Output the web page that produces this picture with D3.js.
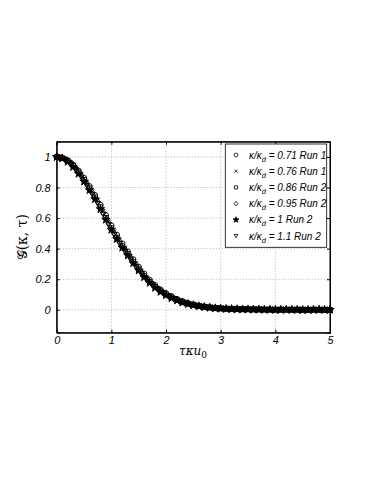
<!DOCTYPE html>
<html>
<head>
<meta charset="utf-8">
<script src="https://cdn.jsdelivr.net/npm/d3@7"></script>
<style>
  body { margin: 0; background: #fff; }
  .tick text { font-family: "Liberation Sans", Arial, sans-serif; font-style: italic; font-size: 11px; fill: #000; }
  .grid line { stroke: #b0b0b0; stroke-dasharray: 1,2; }
</style>
</head>
<body>
<div id="chart"></div>
<script>
// sampling positions (tau*kappa*u0), two interleaved grids
const tauA = [0,0.1,0.2,0.3,0.4,0.5,0.6,0.7,0.8,0.9,1.0,1.1,1.2,1.3,1.4,1.5,1.6,1.7,1.8,1.9,2.0,2.1,2.2,2.3,2.4,2.5,2.6,2.7,2.8,2.9,3.0,3.1,3.2,3.3,3.4,3.5,3.6,3.7,3.8,3.9,4.0,4.1,4.2,4.3,4.4,4.5,4.6,4.7,4.8,4.9,5.0];
const tauB = [0.05,0.15,0.25,0.35,0.45,0.55,0.65,0.75,0.85,0.95,1.05,1.15,1.25,1.35,1.45,1.55,1.65,1.75,1.85,1.95,2.05,2.15,2.25,2.35,2.45,2.55,2.65,2.75,2.85,2.95,3.05,3.15,3.25,3.35,3.45,3.55,3.65,3.75,3.85,3.95,4.05,4.15,4.25,4.35,4.45,4.55,4.65,4.75,4.85,4.95];

const run071 = [1.000,0.995,0.978,0.950,0.910,0.862,0.808,0.750,0.686,0.618,0.552,0.490,0.433,0.381,0.330,0.281,0.236,0.196,0.161,0.132,0.108,0.088,0.070,0.056,0.044,0.035,0.027,0.021,0.016,0.012,0.010,0.008,0.006,0.005,0.004,0.004,0.003,0.003,0.002,0.002,0.001,0.001,0.001,0.000,0.001,0.000,0.000,0.001,0.000,0.000,0.000];
const run076 = [0.998,0.987,0.964,0.928,0.883,0.831,0.774,0.715,0.646,0.577,0.512,0.452,0.398,0.347,0.296,0.249,0.206,0.170,0.140,0.114,0.093,0.074,0.059,0.046,0.037,0.029,0.023,0.018,0.014,0.011,0.009,0.007,0.005,0.004,0.004,0.003,0.002,0.002,0.001,0.001,0.001,0.000,0.001,0.000,0.000,0.001,0.000,0.000,0.000,0.001];
const run086 = [1.000,0.993,0.974,0.943,0.901,0.851,0.796,0.737,0.672,0.602,0.535,0.473,0.417,0.366,0.315,0.266,0.221,0.183,0.150,0.123,0.100,0.081,0.064,0.051,0.040,0.032,0.025,0.019,0.015,0.011,0.009,0.007,0.006,0.005,0.004,0.003,0.003,0.002,0.002,0.001,0.001,0.001,0.000,0.001,0.000,0.000,0.000,0.001,0.000,0.000,0.000];
const run095 = [0.998,0.985,0.960,0.923,0.877,0.824,0.767,0.707,0.637,0.568,0.503,0.444,0.391,0.340,0.290,0.243,0.201,0.166,0.136,0.111,0.090,0.072,0.057,0.045,0.036,0.028,0.022,0.017,0.013,0.010,0.008,0.006,0.005,0.004,0.004,0.003,0.002,0.002,0.001,0.001,0.000,0.001,0.000,0.000,0.001,0.000,0.000,0.000,0.001,0.000];
const run100 = [1.000,0.991,0.969,0.935,0.891,0.840,0.784,0.724,0.659,0.590,0.524,0.463,0.407,0.356,0.306,0.258,0.214,0.177,0.145,0.118,0.096,0.077,0.061,0.048,0.038,0.030,0.023,0.018,0.014,0.010,0.008,0.006,0.005,0.004,0.003,0.003,0.002,0.002,0.001,0.001,0.000,0.000,0.001,0.000,0.000,-0.001,0.000,0.000,0.001,0.000,0.000];
const run110 = [0.997,0.982,0.955,0.916,0.868,0.813,0.755,0.694,0.624,0.555,0.491,0.433,0.380,0.330,0.281,0.235,0.194,0.160,0.131,0.106,0.086,0.069,0.054,0.043,0.034,0.026,0.020,0.016,0.012,0.009,0.007,0.006,0.004,0.004,0.003,0.002,0.002,0.001,0.001,0.000,0.000,0.000,0.001,0.000,0.000,0.000,0.001,0.000,0.000,0.000];

const ratios = ['0.71', '0.76', '0.86', '0.95', '1', '1.1'];
const runs = ['Run 1', 'Run 1', 'Run 2', 'Run 2', 'Run 2', 'Run 2'];
const markers = ['circle', 'times', 'square', 'diamond', 'star', 'triangle'];
const xTicks = [0, 1, 2, 3, 4, 5];
const yTicks = [0, 0.2, 0.4, 0.6, 0.8, 1];

const series = [
  {x: tauA, y: run071}, {x: tauB, y: run076}, {x: tauA, y: run086},
  {x: tauB, y: run095}, {x: tauA, y: run100}, {x: tauB, y: run110}
];

const W = 374, H = 484;
const m = {left: 56.7, right: 330, top: 141.7, bottom: 332.7};

const svg = d3.select('#chart').append('svg')
    .attr('width', W).attr('height', H);

const x = d3.scaleLinear().domain([0, 5]).range([m.left, m.right]);
const y = d3.scaleLinear().domain([-0.15, 1.1]).range([m.bottom, m.top]);

// marker shapes, s = half size
function markerPath(type, s) {
  const p = d3.path();
  if (type === 'circle') {
    p.moveTo(s, 0); p.arc(0, 0, s, 0, 2 * Math.PI);
  } else if (type === 'times') {
    const t = s * 0.8;
    p.moveTo(-t, -t); p.lineTo(t, t); p.moveTo(-t, t); p.lineTo(t, -t);
  } else if (type === 'square') {
    p.rect(-s * 0.85, -s * 0.85, s * 1.7, s * 1.7);
  } else if (type === 'diamond') {
    p.moveTo(0, -s * 1.2); p.lineTo(s, 0); p.lineTo(0, s * 1.2); p.lineTo(-s, 0); p.closePath();
  } else if (type === 'triangle') {
    p.moveTo(-s, -s * 0.8); p.lineTo(s, -s * 0.8); p.lineTo(0, s); p.closePath();
  } else if (type === 'star') {
    return d3.symbol(d3.symbolStar, s * s * 3)();
  }
  return p.toString();
}

// grid
const grid = svg.append('g').attr('class', 'grid');
grid.selectAll('.gx').data(xTicks.slice(1, -1)).enter().append('line')
    .attr('x1', d => x(d)).attr('x2', d => x(d))
    .attr('y1', m.top).attr('y2', m.bottom);
grid.selectAll('.gy').data(yTicks).enter().append('line')
    .attr('x1', m.left).attr('x2', m.right)
    .attr('y1', d => y(d)).attr('y2', d => y(d));

// axes
svg.append('g').attr('id', 'x-axis')
    .attr('transform', 'translate(0,' + m.bottom + ')')
    .call(d3.axisBottom(x).tickValues(xTicks).tickSize(-3).tickPadding(4).tickFormat(d3.format('d')));
svg.append('g').attr('id', 'y-axis')
    .attr('transform', 'translate(' + m.left + ',0)')
    .call(d3.axisLeft(y).tickValues(yTicks).tickSize(-3).tickPadding(6).tickFormat(d => d));
svg.append('g').attr('transform', 'translate(0,' + m.top + ')')
    .call(d3.axisTop(x).tickValues(xTicks).tickSize(-3).tickFormat(''));
svg.append('g').attr('transform', 'translate(' + m.right + ',0)')
    .call(d3.axisRight(y).tickValues(yTicks).tickSize(-3).tickFormat(''));
svg.selectAll('.domain').attr('stroke', '#000');
svg.selectAll('.tick line').attr('stroke', '#000');

svg.append('rect')
    .attr('x', m.left).attr('y', m.top)
    .attr('width', m.right - m.left).attr('height', m.bottom - m.top)
    .attr('fill', 'none').attr('stroke', '#000').attr('stroke-width', 1);

// data markers
series.forEach((s, i) => {
  const type = markers[i];
  svg.append('g').selectAll('path')
    .data(s.y.map((v, j) => [s.x[j], v]))
    .enter().append('path')
    .attr('transform', d => 'translate(' + x(d[0]) + ',' + y(d[1]) + ')')
    .attr('d', markerPath(type, 2.7))
    .attr('fill', type === 'star' ? '#000' : 'none')
    .attr('stroke', '#000')
    .attr('stroke-width', 0.9);
});

// legend
const lg = svg.append('g');
lg.append('rect')
    .attr('x', 225.3).attr('y', 144)
    .attr('width', 101.4).attr('height', 103.3)
    .attr('fill', '#fff').attr('stroke', '#000').attr('stroke-width', 0.8);
ratios.forEach((r, i) => {
  const cy = 155 + i * 16.2;
  lg.append('path')
    .attr('transform', 'translate(236,' + cy + ')')
    .attr('d', markerPath(markers[i], 1.9))
    .attr('fill', markers[i] === 'star' ? '#000' : 'none')
    .attr('stroke', '#000').attr('stroke-width', 0.8);
  const t = lg.append('text')
    .attr('x', 249).attr('y', cy + 3.5)
    .attr('font-family', '"Liberation Sans", Arial, sans-serif')
    .attr('font-style', 'italic').attr('font-size', 10);
  t.append('tspan').text('κ/κ');
  t.append('tspan').attr('dy', 3).attr('font-size', 7.5).text('d');
  t.append('tspan').attr('dy', -3).text(' = ' + r + ' ' + runs[i]);
});

// axis titles
const xl = svg.append('text')
    .attr('x', 193).attr('y', 355)
    .attr('text-anchor', 'middle')
    .attr('font-family', '"DejaVu Serif", serif')
    .attr('font-style', 'italic').attr('font-size', 12);
xl.append('tspan').text('τκu');
xl.append('tspan').attr('dy', 3).attr('font-size', 9).attr('font-style', 'normal').text('0');

svg.append('text')
    .attr('transform', 'translate(27,' + ((m.top + m.bottom) / 2) + ') rotate(-90)')
    .attr('text-anchor', 'middle')
    .attr('font-family', '"DejaVu Serif", serif')
    .attr('font-size', 14)
    .text('𝒢(κ, τ)');
</script>
</body>
</html>
